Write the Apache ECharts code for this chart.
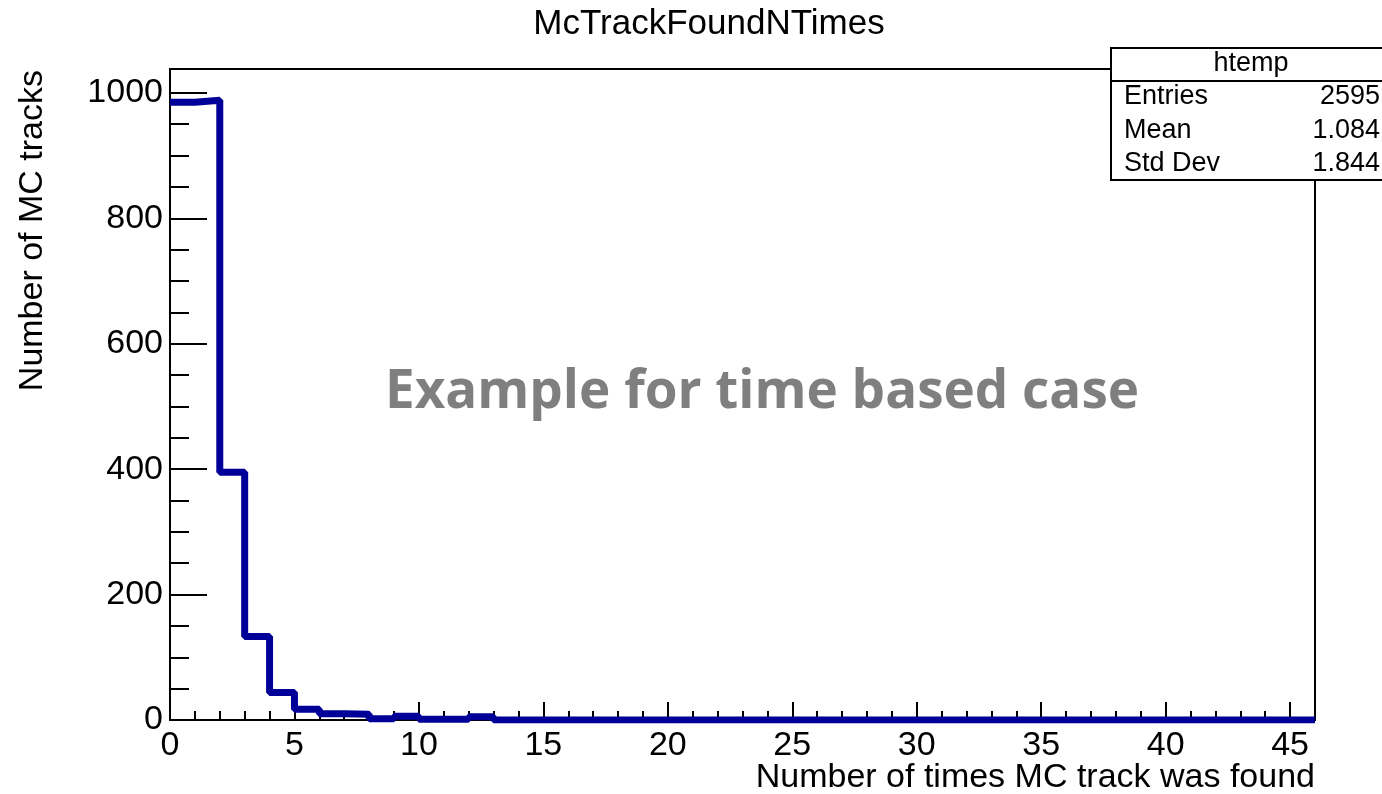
<!DOCTYPE html>
<html>
<head>
<meta charset="utf-8">
<script src="https://cdn.jsdelivr.net/npm/echarts@6/dist/echarts.min.js"></script>
<style>
  html, body { margin: 0; padding: 0; background: #fff; }
  #chart { width: 1382px; height: 794px; }
</style>
</head>
<body>
<div id="chart"></div>
<script>
// lower bin edges (number of times found), one bin per integer
const binEdges = [0, 1, 2, 3, 4, 5, 6, 7, 8, 9, 10, 11, 12, 13, 14, 15, 16, 17, 18, 19, 20, 21, 22,
  23, 24, 25, 26, 27, 28, 29, 30, 31, 32, 33, 34, 35, 36, 37, 38, 39, 40, 41, 42, 43, 44, 45];
const counts = [985, 988, 395, 133, 44, 17, 10, 9, 2, 6, 1, 1, 5, 0, 0, 0, 0, 0, 0, 0, 0, 0, 0,
  0, 0, 0, 0, 0, 0, 0, 0, 0, 0, 0, 0, 0, 0, 0, 0, 0, 0, 0, 0, 0, 0, 0];
const xTicks = [0, 5, 10, 15, 20, 25, 30, 35, 40, 45];
const yTicks = [0, 200, 400, 600, 800, 1000];
const statNames = ['Entries', 'Mean', 'Std Dev'];
const statValues = ['2595', '1.084', '1.844'];

const font = '"Liberation Sans", Arial, sans-serif';

// step outline: horizontal over each bin, closing at the last upper edge
const stepData = binEdges.map((x, i) => [x, counts[i]]);
stepData.push([binEdges[binEdges.length - 1] + 1, counts[counts.length - 1]]);

const chart = echarts.init(document.getElementById('chart'));

const statRows = [];
statNames.forEach((name, i) => {
  const y = 97 + i * 33.5;
  statRows.push({
    type: 'text', x: 1124, y: y,
    style: { text: name, font: '27px ' + font, fill: '#000', textVerticalAlign: 'middle' }
  });
  statRows.push({
    type: 'text', x: 1380, y: y,
    style: { text: statValues[i], font: '27px ' + font, fill: '#000', textAlign: 'right', textVerticalAlign: 'middle' }
  });
});

chart.setOption({
  animation: false,
  backgroundColor: '#fff',
  grid: {
    left: 170, right: 67, top: 69, bottom: 74,
    show: true, borderColor: '#000', borderWidth: 2, backgroundColor: 'transparent'
  },
  xAxis: {
    type: 'value', min: 0, max: 46, interval: 5,
    axisLine: { show: true, onZero: false, lineStyle: { color: '#000', width: 2 } },
    axisTick: { inside: true, length: 18, lineStyle: { color: '#000', width: 2 } },
    minorTick: { show: true, splitNumber: 5, length: 9, lineStyle: { color: '#000', width: 2 } },
    splitLine: { show: false },
    axisLabel: {
      margin: 9, fontSize: 34, fontFamily: font, color: '#000',
      formatter: v => (xTicks.indexOf(v) >= 0 ? String(v) : '')
    }
  },
  yAxis: {
    type: 'value', min: 0, max: 1038, interval: 200,
    axisLine: { show: true, lineStyle: { color: '#000', width: 2 } },
    axisTick: { inside: true, length: 37, lineStyle: { color: '#000', width: 2 } },
    minorTick: { show: true, splitNumber: 4, length: 19, lineStyle: { color: '#000', width: 2 } },
    splitLine: { show: false },
    axisLabel: {
      margin: 7, fontSize: 34, fontFamily: font, color: '#000',
      formatter: v => (yTicks.indexOf(v) >= 0 ? String(v) : '')
    }
  },
  series: [{
    type: 'line',
    step: 'end',
    data: stepData,
    showSymbol: false,
    lineStyle: { color: '#000099', width: 7 },
    z: 3
  }],
  graphic: [
    {
      type: 'text', x: 709, y: 24,
      style: { text: 'McTrackFoundNTimes', font: '35px ' + font, fill: '#000', textAlign: 'center', textVerticalAlign: 'middle' }
    },
    {
      type: 'text', x: 1315, y: 778,
      style: { text: 'Number of times MC track was found', font: '34px ' + font, fill: '#000', textAlign: 'right', textVerticalAlign: 'middle' }
    },
    {
      type: 'text', x: 33, y: 70, rotation: Math.PI / 2,
      style: { text: 'Number of MC tracks', font: '34px ' + font, fill: '#000', textAlign: 'right', textVerticalAlign: 'middle' }
    },
    {
      type: 'text', x: 762, y: 393,
      style: { text: 'Example for time based case', font: 'bold 53px "Open Sans", sans-serif', fill: '#7f7f7f', textAlign: 'center', textVerticalAlign: 'middle' }
    },
    {
      type: 'group', z: 100,
      children: [
        { type: 'rect', shape: { x: 1111, y: 48, width: 290, height: 132 }, style: { fill: '#fff', stroke: '#000', lineWidth: 2 } },
        { type: 'line', shape: { x1: 1111, y1: 81, x2: 1401, y2: 81 }, style: { stroke: '#000', lineWidth: 2 } },
        {
          type: 'text', x: 1251, y: 64,
          style: { text: 'htemp', font: '27px ' + font, fill: '#000', textAlign: 'center', textVerticalAlign: 'middle' }
        }
      ].concat(statRows)
    }
  ]
});
</script>
</body>
</html>
